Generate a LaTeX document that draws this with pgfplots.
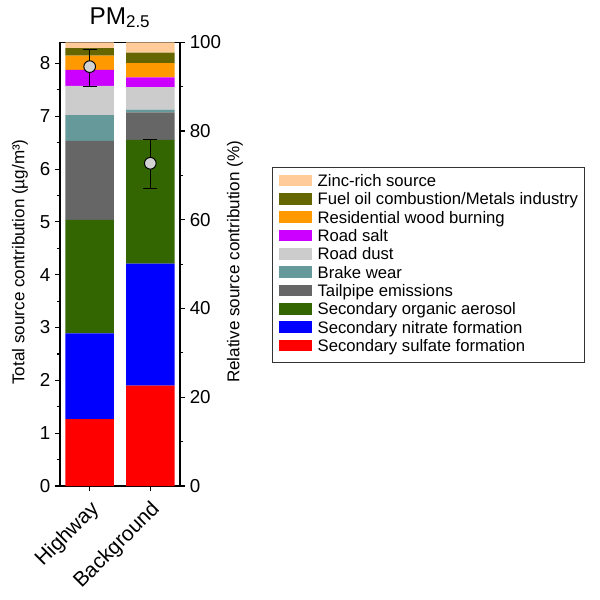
\documentclass[border=0pt]{standalone}
\usepackage{pgfplots}
\pgfplotsset{compat=1.18}
\usepackage{fontspec}
\setmainfont{Liberation Sans}
\definecolor{czinc}{HTML}{FFCC99}
\definecolor{cfuel}{HTML}{666600}
\definecolor{cwood}{HTML}{FF9900}
\definecolor{csalt}{HTML}{CC00FF}
\definecolor{cdust}{HTML}{CCCCCC}
\definecolor{cbrake}{HTML}{669999}
\definecolor{ctail}{HTML}{666666}
\definecolor{csoa}{HTML}{336600}
\definecolor{cnit}{HTML}{0000FF}
\definecolor{csul}{HTML}{FF0000}
\definecolor{cmark}{HTML}{D3D3D3}
\begin{document}
\begin{tikzpicture}
\path[use as bounding box] (0,0) rectangle (432pt,432pt);
\pgfplotsset{
  common/.style={
    at={(43.2pt,82.08pt)}, anchor=south west,
    scale only axis, width=86.4pt, height=319.46pt,
    xmin=-0.49, xmax=1.49,
    tick align=outside,
    major tick length=3.5pt, minor tick length=2pt,
    every tick/.style={black, line width=0.8pt},
    axis line style={black, line width=0.8pt},
    tick label style={font=\fontsize{13.5}{15}\selectfont},
    label style={font=\fontsize{12.3}{14}\selectfont},
    /pgf/number format/assume math mode=true,
  }
}
\begin{axis}[common,
  ymin=0, ymax=100,
  ybar stacked, bar width=0.8,
  xtick={0,1}, xticklabels={Highway,Background},
  xtick pos=bottom, ytick pos=right, yticklabel pos=right,
  ytick={0,20,40,60,80,100}, minor ytick={10,30,50,70,90},
  xticklabel style={xshift=-0.5pt, yshift=-6pt, rotate=45, anchor=north east, inner sep=0pt, font=\fontsize{15}{17}\selectfont},
  yticklabel style={anchor=west},
  ylabel={Relative source contribution (\%)},
  ylabel style={at={(axis description cs:1.458,0.505)}, anchor=center},
  title={PM\textsubscript{2.5}},
  title style={at={(axis description cs:0.5,1.0216)}, anchor=base, font=\fontsize{17.5}{19}\selectfont},
  reverse legend,
  legend cell align=left,
  legend image code/.code={\fill[#1] (0pt,-2.75pt) rectangle (23.5pt,5.65pt);},
  legend style={at={(axis description cs:1.769,0.7183)}, anchor=north west,
    draw=black!80, line width=0.72pt, inner xsep=4.8pt, inner ysep=3.95pt,
    row sep=0pt, font=\fontsize{12}{13.2}\selectfont,
    nodes={text height=9.45pt, text depth=3.75pt, inner sep=0pt},
    /tikz/every odd column/.style={column sep=4pt}},
]
\addplot[fill=csul, draw=none] coordinates {(0,15.1) (1,22.6)};
\addlegendentry{Secondary sulfate formation}
\addplot[fill=cnit, draw=none] coordinates {(0,19.3) (1,27.5)};
\addlegendentry{Secondary nitrate formation}
\addplot[fill=csoa, draw=none] coordinates {(0,25.6) (1,27.9)};
\addlegendentry{Secondary organic aerosol}
\addplot[fill=ctail, draw=none] coordinates {(0,17.8) (1,6.2)};
\addlegendentry{Tailpipe emissions}
\addplot[fill=cbrake, draw=none] coordinates {(0,5.8) (1,0.6)};
\addlegendentry{Brake wear}
\addplot[fill=cdust, draw=none] coordinates {(0,6.6) (1,5.1)};
\addlegendentry{Road dust}
\addplot[fill=csalt, draw=none] coordinates {(0,3.6) (1,2.2)};
\addlegendentry{Road salt}
\addplot[fill=cwood, draw=none] coordinates {(0,3.2) (1,3.2)};
\addlegendentry{Residential wood burning}
\addplot[fill=cfuel, draw=none] coordinates {(0,1.7) (1,2.4)};
\addlegendentry{Fuel oil combustion/Metals industry}
\addplot[fill=czinc, draw=none] coordinates {(0,1.3) (1,2.3)};
\addlegendentry{Zinc-rich source}
\end{axis}
\begin{axis}[common,
  ymin=0, ymax=8.4,
  hide x axis,
  axis y line*=left,
  ytick={0,1,2,3,4,5,6,7,8},
  minor ytick={0.5,1.5,2.5,3.5,4.5,5.5,6.5,7.5},
  ylabel={Total source contribution (µg/m³)},
  ylabel style={at={(axis description cs:-0.333,0.505)}, anchor=center},
]
\addplot[only marks, mark=*, mark size=4.2pt,
  mark options={fill=cmark, draw=black, line width=0.7pt},
  error bars/.cd, y dir=both, y explicit,
  error bar style={black, line width=0.8pt},
  error mark options={black, line width=0.8pt, mark size=5pt, rotate=90}]
  coordinates {(0,7.94) += (0,0.32) -= (0,0.37)
               (1,6.11) += (0,0.45) -= (0,0.48)};
\end{axis}
\end{tikzpicture}
\end{document}
